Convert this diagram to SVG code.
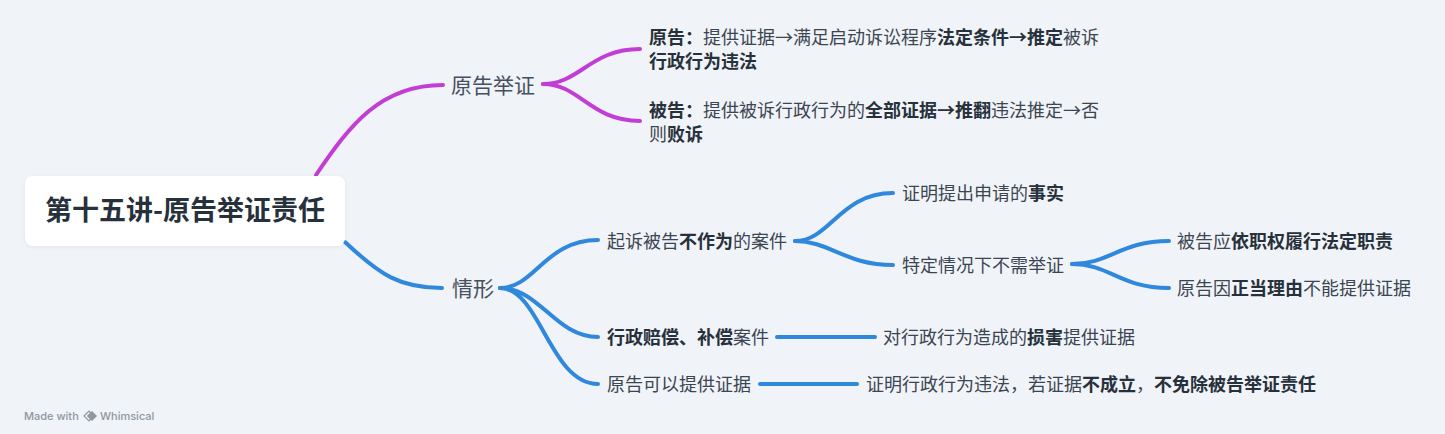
<svg xmlns="http://www.w3.org/2000/svg" width="1445" height="434" viewBox="0 0 1445 434">
<defs>
<style>
text{font-family:"Noto Sans CJK SC","Noto Sans",sans-serif;fill:#3b4652;}
.b{font-weight:700;fill:#27313b;}
.leaf{font-size:18px;}
.l1{font-size:21px;fill:#465160;}
.root{font-size:27px;font-weight:700;fill:#27313b;}
.c{fill:none;stroke-width:4;stroke-linecap:round;}
.m{stroke:#c23cd6;}
.u{stroke:#2f88dc;}
.wm{font-family:Inter,"Noto Sans",sans-serif;font-size:11px;font-weight:500;fill:#8c98a4;}
</style>
<filter id="sh" x="-10%" y="-30%" width="120%" height="160%">
<feDropShadow dx="0" dy="1" stdDeviation="2" flood-color="#1b2a3a" flood-opacity="0.06"/>
</filter>
</defs>
<rect width="1445" height="434" fill="#f0f3f7"/>

<g id="connectors">
<path class="c m" d="M316 175 C350 125 380 85 443 85"/>
<path class="c m" d="M543 84 C580 84 590 49 640 49"/>
<path class="c m" d="M543 84 C580 84 590 121 640 121"/>
<path class="c u" d="M345 242 C380 275 400 288 442 288"/>
<path class="c u" d="M500 288 C535 288 545 240 598 240"/>
<path class="c u" d="M500 288 C540 288 555 337 598 337"/>
<path class="c u" d="M500 288 C540 288 550 384 598 384"/>
<path class="c u" d="M795 241 C830 241 840 193 893 193"/>
<path class="c u" d="M795 241 C830 241 845 265 893 265"/>
<path class="c u" d="M1072 264 C1110 264 1120 241 1169 241"/>
<path class="c u" d="M1072 264 C1110 264 1120 288 1169 288"/>
<path class="c u" d="M777 337 L875 337"/>
<path class="c u" d="M760 384 L857 384"/>
</g>

<g id="root">
<rect x="25" y="176" width="320" height="70" rx="8" fill="#ffffff" filter="url(#sh)"/>
<text class="root" x="185" y="220" text-anchor="middle">第十五讲-原告举证责任</text>
</g>

<g id="n-yuangao-juzheng"><text class="l1" x="451" y="93">原告举证</text></g>
<g id="n-qingxing"><text class="l1" x="452" y="296">情形</text></g>

<g id="n-yuangao">
<text class="leaf" x="649" y="44"><tspan class="b">原告：</tspan>提供证据→满足启动诉讼程序<tspan class="b">法定条件→推定</tspan>被诉</text>
<text class="leaf b" x="649" y="68">行政行为违法</text>
</g>
<g id="n-beigao">
<text class="leaf" x="649" y="117"><tspan class="b">被告：</tspan>提供被诉行政行为的<tspan class="b">全部证据→推翻</tspan>违法推定→否</text>
<text class="leaf" x="649" y="141">则<tspan class="b">败诉</tspan></text>
</g>

<g id="n-buzuowei"><text class="leaf" x="607" y="248">起诉被告<tspan class="b">不作为</tspan>的案件</text></g>
<g id="n-shishi"><text class="leaf" x="902" y="200">证明提出申请的<tspan class="b">事实</tspan></text></g>
<g id="n-teding"><text class="leaf" x="902" y="272">特定情况下不需举证</text></g>
<g id="n-zhize"><text class="leaf" x="1177" y="248">被告应<tspan class="b">依职权履行法定职责</tspan></text></g>
<g id="n-liyou"><text class="leaf" x="1177" y="295">原告因<tspan class="b">正当理由</tspan>不能提供证据</text></g>
<g id="n-peichang"><text class="leaf" x="607" y="344"><tspan class="b">行政赔偿、补偿</tspan>案件</text></g>
<g id="n-sunhai"><text class="leaf" x="883" y="344">对行政行为造成的<tspan class="b">损害</tspan>提供证据</text></g>
<g id="n-keyi"><text class="leaf" x="607" y="391">原告可以提供证据</text></g>
<g id="n-weifa"><text class="leaf" x="866" y="391">证明行政行为违法，若证据<tspan class="b">不成立</tspan>，<tspan class="b">不免除被告举证责任</tspan></text></g>

<g id="watermark">
<text class="wm" x="24" y="420">Made with</text>
<path d="M84 416 L89 411 L91 413 L88 416 L91 419 L89 421 Z" fill="none" stroke="#8c98a4" stroke-width="1.2"/>
<path d="M92 411 L97 416 L92 421 L87 416 Z" fill="#8c98a4"/>
<text class="wm" x="100" y="420">Whimsical</text>
</g>
</svg>
